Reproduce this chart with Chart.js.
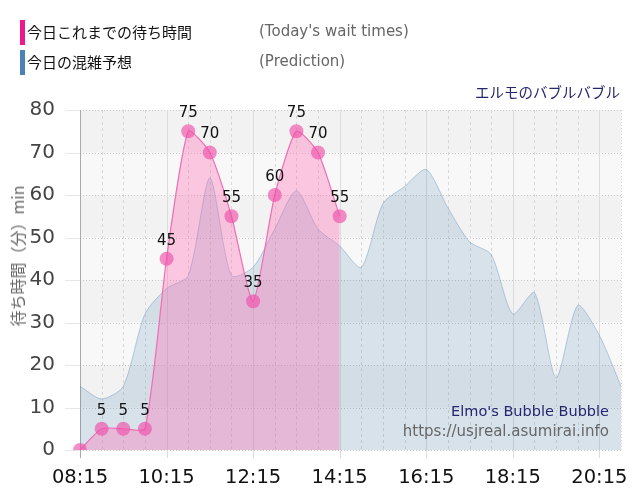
<!DOCTYPE html>
<html>
<head>
<meta charset="utf-8">
<script src="https://cdn.jsdelivr.net/npm/chart.js@4"></script>
<style>
    body { margin: 0; background: #fff; }
    #wrap { position: relative; width: 640px; height: 500px; }
    #myChart { position: absolute; left: 0; top: 0; }
    .bar { position: absolute; left: 20px; width: 5px; height: 25px; }
    .jp { position: absolute; font-family: "Noto Sans CJK JP", sans-serif; color: #111; font-size: 15px; white-space: nowrap; }
    .en { position: absolute; font-family: "DejaVu Sans", sans-serif; color: #666; font-size: 15px; white-space: nowrap; }
    #park { position: absolute; right: 20px; top: 81px; font-family: "Noto Sans CJK JP", sans-serif; font-size: 14.5px; color: #26266e; }
    #credit { position: absolute; right: 31px; top: 401px; text-align: right; font-family: "DejaVu Sans", sans-serif; line-height: 20px; }
    #ytitle { position: absolute; left: 17px; top: 256px; transform: translate(-50%, -50%) rotate(-90deg);
        font-family: "Noto Sans CJK JP", sans-serif; font-size: 16px; color: #666; white-space: nowrap; }
</style>
</head>
<body>
<div id="wrap">
    <canvas id="myChart" width="640" height="500"></canvas>
    <div class="bar" style="top:20px;background:#f0168c"></div>
    <div class="jp" style="left:27px;top:21px">今日これまでの待ち時間</div>
    <div class="en" style="left:259px;top:22px">(Today's wait times)</div>
    <div class="bar" style="top:50px;background:#4a82b4"></div>
    <div class="jp" style="left:27px;top:51px">今日の混雑予想</div>
    <div class="en" style="left:259px;top:52px">(Prediction)</div>
    <div id="park">エルモのバブルバブル</div>
    <div id="ytitle">待ち時間（分）min</div>
    <div id="credit">
        <div style="color:#26266e;font-size:14.5px">Elmo's Bubble Bubble</div>
        <div style="color:#666;font-size:15px">https://usjreal.asumirai.info</div>
    </div>
</div>
<script>
const times = ['08:15', '08:45', '09:15', '09:45', '10:15', '10:45', '11:15', '11:45', '12:15', '12:45',
    '13:15', '13:45', '14:15', '14:45', '15:15', '15:45', '16:15', '16:45', '17:15', '17:45',
    '18:15', '18:45', '19:15', '19:45', '20:15', '20:45'];
const waitToday = [0, 5, 5, 5, 45, 75, 70, 55, 35, 60, 75, 70, 55];
const prediction = [15, 12, 15, 32, 38, 41, 64, 41, 43, 52, 61, 52, 48, 43, 58, 62, 66, 57, 49, 46, 32, 37, 17, 34, 27, 15];
const yTicks = [0, 10, 20, 30, 40, 50, 60, 70, 80];

// background bands + grid
const gridPlugin = {
    id: 'grid',
    beforeDatasetsDraw(chart) {
        const { ctx, chartArea: a, scales: { x, y } } = chart;
        ctx.save();
        for (let i = 0; i < yTicks.length - 1; i++) {
            const top = y.getPixelForValue(yTicks[i + 1]);
            const bot = y.getPixelForValue(yTicks[i]);
            ctx.fillStyle = (i % 2 === 0) ? '#f8f8f8' : '#f2f2f2';
            ctx.fillRect(a.left, top, a.right - a.left, bot - top);
        }
        ctx.lineWidth = 1;
        // horizontal
        yTicks.forEach(v => {
            const py = Math.round(y.getPixelForValue(v)) + 0.5;
            ctx.setLineDash([]);
            ctx.strokeStyle = '#e6e6e6';
            ctx.beginPath(); ctx.moveTo(a.left - 15, py); ctx.lineTo(a.left, py); ctx.stroke();
            ctx.setLineDash([1, 2]);
            ctx.strokeStyle = '#c8c8c8';
            ctx.beginPath(); ctx.moveTo(a.left, py); ctx.lineTo(a.right, py); ctx.stroke();
        });
        // vertical
        times.forEach((t, i) => {
            const px = Math.round(x.getPixelForValue(i)) + 0.5;
            if (i === 0) return;
            if (i % 4 === 0) {
                ctx.setLineDash([]);
                ctx.strokeStyle = '#dcdcdc';
                ctx.beginPath(); ctx.moveTo(px, a.top); ctx.lineTo(px, a.bottom + 8); ctx.stroke();
            } else {
                ctx.setLineDash(i === times.length - 1 ? [1, 2] : [3, 3]);
                ctx.strokeStyle = '#d8d8d8';
                ctx.beginPath(); ctx.moveTo(px, a.top); ctx.lineTo(px, a.bottom); ctx.stroke();
            }
        });
        ctx.setLineDash([]);
        ctx.strokeStyle = '#aaaaaa';
        const lx = Math.round(a.left) + 0.5;
        ctx.beginPath(); ctx.moveTo(lx, a.top); ctx.lineTo(lx, a.bottom + 8); ctx.stroke();
        ctx.restore();
    }
};

// value labels above pink points
const labelPlugin = {
    id: 'valueLabels',
    afterDatasetsDraw(chart) {
        const { ctx } = chart;
        const meta = chart.getDatasetMeta(0);
        ctx.save();
        ctx.font = '15px "DejaVu Sans"';
        ctx.fillStyle = '#111';
        ctx.textAlign = 'center';
        ctx.textBaseline = 'middle';
        meta.data.forEach((pt, i) => {
            const v = waitToday[i];
            if (v == null || v === 0) return;
            ctx.fillText(String(v), pt.x, pt.y - 18);
        });
        ctx.restore();
    }
};

new Chart(document.getElementById('myChart'), {
    type: 'line',
    data: {
        labels: times,
        datasets: [{
            label: '今日これまでの待ち時間',
            data: waitToday,
            borderColor: '#f06eb4',
            borderWidth: 1.2,
            backgroundColor: 'rgba(255,105,180,0.35)',
            fill: 'origin',
            tension: 0.2,
            pointRadius: 7,
            pointBorderWidth: 0,
            pointBackgroundColor: 'rgba(240,80,170,0.65)',
            order: 1
        }, {
            label: '今日の混雑予想',
            data: prediction,
            borderColor: 'rgba(70,130,180,0.35)',
            borderWidth: 1,
            backgroundColor: 'rgba(70,130,180,0.18)',
            fill: 'origin',
            tension: 0.25,
            pointRadius: 0,
            order: 2
        }]
    },
    options: {
        responsive: false,
        animation: false,
        layout: { padding: { top: 110, right: 19, left: 0, bottom: 0 } },
        plugins: { legend: { display: false }, tooltip: { enabled: false } },
        scales: {
            x: {
                grid: { display: false },
                border: { display: false },
                ticks: {
                    autoSkip: false,
                    maxRotation: 0,
                    padding: 8,
                    color: '#111',
                    font: { family: 'DejaVu Sans', size: 19.5 },
                    callback: (v, i) => (i % 4 === 0 ? times[i] : '')
                },
                afterFit: s => { s.height = 50; }
            },
            y: {
                min: 0,
                max: 80,
                grid: { display: false },
                border: { display: false },
                ticks: {
                    stepSize: 10,
                    padding: 17,
                    color: '#444',
                    font: { family: 'DejaVu Sans', size: 20 }
                },
                afterFit: s => { s.width = 80; }
            }
        }
    },
    plugins: [gridPlugin, labelPlugin]
});
</script>
</body>
</html>
